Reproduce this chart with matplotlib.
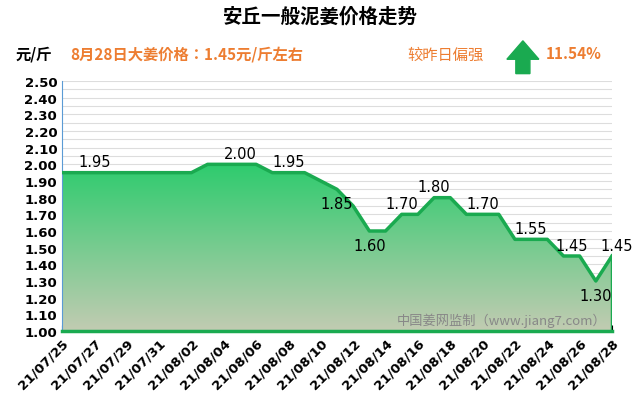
import numpy as np
import matplotlib.pyplot as plt
from matplotlib.patches import FancyArrow
from matplotlib.colors import LinearSegmentedColormap
import datetime as dt

CJK = ['Noto Sans CJK SC', 'Noto Sans CJK JP', 'Noto Sans CJK TC', 'DejaVu Sans']
plt.rcParams['font.family'] = 'sans-serif'
plt.rcParams['font.sans-serif'] = CJK

start = dt.date(2021, 7, 25)
dates = [start + dt.timedelta(days=i) for i in range(35)]
prices = [1.95] * 9 + [2.00] * 4 + [1.95] * 3 + [1.90, 1.85, 1.75, 1.60, 1.60,
          1.70, 1.70, 1.80, 1.80, 1.70, 1.70, 1.70, 1.55, 1.55, 1.55,
          1.45, 1.45, 1.30, 1.45]
labels = {2: '1.95', 11: '2.00', 14: '1.95', 17: '1.85', 19: '1.60', 21: '1.70',
          23: '1.80', 26: '1.70', 29: '1.55', 32: '1.45', 33: '1.30', 34: '1.45'}
below = {17, 19, 33}

fig = plt.figure(figsize=(6.4, 4.1), dpi=100)
ax = fig.add_axes([62 / 640, 1 - 332 / 410, 550 / 640, 250 / 410])
x = np.arange(len(prices))
y = np.array(prices)

# gradient fill under the line
grad = np.linspace(0, 1, 256).reshape(-1, 1)
cmap = LinearSegmentedColormap.from_list('g', ['#c2cbb2', '#2ecc6e'])
im = ax.imshow(grad, extent=[0, 34, 1.0, 2.0], origin='lower', aspect='auto', cmap=cmap, zorder=1)
poly = ax.fill_between(x, 1.0, y, color='none')
im.set_clip_path(poly.get_paths()[0], transform=ax.transData)
ax.plot(x, y, color='#1aaa50', lw=2.5, zorder=3)
ax.plot([34, 34], [1.0, 1.45], color='#1aaa50', lw=2.5, zorder=3)

for i, t in labels.items():
    dy = -0.04 if i in below else 0.02
    va = 'top' if i in below else 'bottom'
    xi = i - 0.5 if i == 32 else (i + 0.3 if i == 34 else i)
    ax.text(xi, y[i] + dy, t, ha='center', va=va, fontsize=10.5, family='DejaVu Sans', zorder=4)

ax.set_xlim(0, 34)
ax.set_ylim(1.0, 2.5)
ax.set_yticks(np.arange(1.0, 2.501, 0.1))
ax.set_yticklabels(['%.2f' % v for v in np.arange(1.0, 2.501, 0.1)], fontsize=9.5,
                   fontweight='bold', family='DejaVu Sans')
ax.set_yticks(np.arange(1.0, 2.501, 0.05), minor=True)
ax.yaxis.grid(True, which='both', color='#dddddd', lw=0.8)
ax.set_axisbelow(True)
ax.tick_params(axis='y', length=0, which='both')
ax.set_xticks(x[::2])
ax.set_xticklabels([d.strftime('%y/%m/%d') for d in dates[::2]], rotation=45, ha='right',
                   rotation_mode='anchor', fontsize=9.5, fontweight='bold', family='DejaVu Sans')
ax.set_xticks(x, minor=True)
ax.tick_params(axis='x', which='both', length=4, direction='in')
for s in ['top', 'right']:
    ax.spines[s].set_visible(False)
ax.spines['left'].set_color('#5b9bd5')
ax.spines['bottom'].set_color('#1aaa50')
ax.spines['bottom'].set_linewidth(2.5)

ax.text(0.99, 0.03, '中国姜网监制（www.jiang7.com）', transform=ax.transAxes, ha='right',
        fontsize=9.5, color='#888888', zorder=5)

fig.text(0.5, 0.945, '安丘一般泥姜价格走势', ha='center', fontsize=14, fontweight='bold')
fig.text(0.025, 0.855, '元/斤', fontsize=11, fontweight='bold')
fig.text(0.11, 0.855, '8月28日大姜价格：1.45元/斤左右', fontsize=11, color='#ed7d31', fontweight='bold')
fig.text(0.636, 0.855, '较昨日偏强', fontsize=11, color='#ed7d31')
fig.text(0.852, 0.855, '11.54%', fontsize=11, color='#ed7d31', fontweight='bold')
fig.patches.append(FancyArrow(0.817, 0.818, 0, 0.08, width=0.022, head_width=0.05, head_length=0.045,
                              transform=fig.transFigure, color='#1aaa50', length_includes_head=True))

fig.savefig('out.png', dpi=100)
